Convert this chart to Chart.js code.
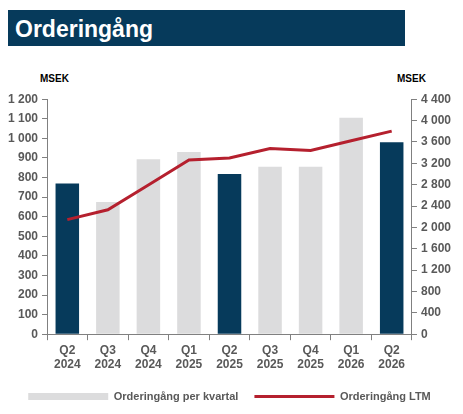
<!DOCTYPE html>
<html><head><meta charset="utf-8">
<script src="https://cdn.jsdelivr.net/npm/chart.js@4"></script>
<style>
body{margin:0;background:#fff;font-family:"Liberation Sans",Arial,sans-serif;}
#title{position:absolute;left:8px;top:10px;width:397px;height:36px;background:#063a5b;color:#fff;font-weight:bold;font-size:23px;line-height:38px;padding-left:7px;box-sizing:border-box;}
.u{position:absolute;top:73px;font-size:10px;font-weight:bold;color:#000;}
#wrap{position:absolute;left:0;top:88px;width:463px;height:326px;}
</style></head><body>
<div id="title">Orderingång</div>
<div class="u" style="left:40px">MSEK</div>
<div class="u" style="left:397px">MSEK</div>
<div id="wrap"><canvas id="c"></canvas></div>
<script>
const categories=[['Q2','2024'],['Q3','2024'],['Q4','2024'],['Q1','2025'],['Q2','2025'],['Q3','2025'],['Q4','2025'],['Q1','2026'],['Q2','2026']];
const quarterly=[770,675,893,930,818,855,855,1105,980];
const ltm=[2145,2330,2795,3260,3300,3478,3438,3623,3803];
const leftTicks=[0,100,200,300,400,500,600,700,800,900,1000,1100,1200];
const NAVY='#063a5b',GREY='#dcdcdd',RED='#b5202e';
const barColors=categories.map(c=>c[0]==='Q2'?NAVY:GREY);
const fmt=v=>String(v).replace(/\B(?=(\d{3})+(?!\d))/g,' ');
const tickFont={family:'"Liberation Sans"',size:12,weight:'bold'};
const axGrid={display:true,drawOnChartArea:false,drawTicks:true,tickLength:5,color:'#808080'};
new Chart(document.getElementById('c'),{
 data:{labels:categories,datasets:[
  {type:'bar',label:'Orderingång per kvartal',data:quarterly,backgroundColor:barColors,yAxisID:'y',categoryPercentage:0.58,barPercentage:1,order:2},
  {type:'line',label:'Orderingång LTM',data:ltm,borderColor:RED,backgroundColor:RED,borderWidth:3,pointRadius:0,yAxisID:'y2',tension:0,order:1}
 ]},
 options:{responsive:true,maintainAspectRatio:false,animation:false,
  layout:{padding:{left:4,right:8,top:7,bottom:2}},
  plugins:{tooltip:{enabled:false},legend:{position:'bottom',
   labels:{usePointStyle:true,pointStyleWidth:80,boxHeight:7,padding:16,color:'#595959',font:{family:'"Liberation Sans"',size:11,weight:'bold'},
    generateLabels:()=>[
     {text:'Orderingång per kvartal',fillStyle:GREY,strokeStyle:GREY,lineWidth:0,pointStyle:'rect',fontColor:'#595959'},
     {text:'Orderingång LTM',fillStyle:RED,strokeStyle:RED,lineWidth:3,pointStyle:'line',fontColor:'#595959'}]}}},
  scales:{
   x:{grid:{display:true,drawOnChartArea:false,drawTicks:true,tickLength:6,color:'#808080',offset:true},border:{color:'#808080'},ticks:{color:'#595959',font:tickFont,maxRotation:0,autoSkip:false}},
   y:{position:'left',min:0,max:1200,afterBuildTicks:a=>{a.ticks=leftTicks.map(v=>({value:v}))},grid:axGrid,border:{color:'#808080'},
      ticks:{color:'#595959',font:tickFont,autoSkip:false,padding:4,callback:v=>fmt(v)}},
   y2:{position:'right',min:0,max:4400,ticks:{stepSize:400,autoSkip:false,padding:4,color:'#595959',font:tickFont,callback:v=>fmt(v)},grid:axGrid,border:{color:'#808080'}}
  }}
});
</script></body></html>
